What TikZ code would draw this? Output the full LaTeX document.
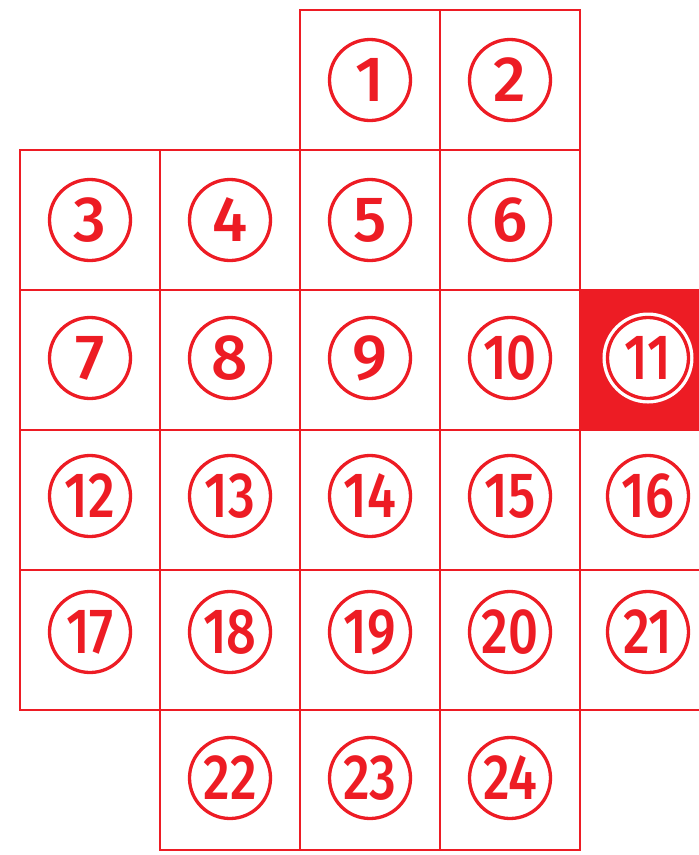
\documentclass[tikz,border=0pt]{standalone}
\usepackage{fontspec}
\setmainfont{Fira Sans}[UprightFont={* Medium}]
\usetikzlibrary{positioning}
\definecolor{gridred}{HTML}{ED1C24}
\tikzset{
  cell/.style={rectangle, draw=gridred, line width=2pt, minimum size=140pt, inner sep=0pt},
  hotcell/.style={cell, fill=gridred},
  numcirc/.style={circle, draw=gridred, line width=3.3pt, minimum size=81pt, inner sep=0pt,
                  text=gridred, font=\fontsize{64}{64}\selectfont},
  hotcirc/.style={numcirc, fill=white, preaction={draw=white, line width=10pt}},
}
\newcommand{\numtext}[1]{\ifnum#1>9 \scalebox{0.82}[1]{#1}\else #1\fi}

\begin{document}
\begin{tikzpicture}[x=1pt, y=-1pt]
  \useasboundingbox (0,0) rectangle (699,855);
  \clip (0,0) rectangle (699,855);

  %% === Grid cells: number / column / row / circle shift ===
  \foreach \n/\c/\r/\dy in {1/2/0/0, 2/3/0/0,
      3/0/1/0, 4/1/1/0, 5/2/1/0, 6/3/1/0,
      7/0/2/-2, 8/1/2/-2, 9/2/2/-2, 10/3/2/-2,
      12/0/3/-4, 13/1/3/-4, 14/2/3/-4, 15/3/3/-4, 16/4/3/-4,
      17/0/4/-8, 18/1/4/-8, 19/2/4/-8, 20/3/4/-8, 21/4/4/-8,
      22/1/5/-2, 23/2/5/-2, 24/3/5/-2} {
    \node[cell] at ({90+140*\c}, {80+140*\r}) (cell\n) {};
    \node[numcirc] at ({90+140*\c-(\c==4)*2}, {80+140*\r+\dy}) (num\n) {\numtext{\n}};
  }

  %% Highlighted cell
  \node[hotcell] at (650, 360) (cell11) {};
  \node[hotcirc] at (648, 358) (num11) {\numtext{11}};

\end{tikzpicture}
\end{document}
